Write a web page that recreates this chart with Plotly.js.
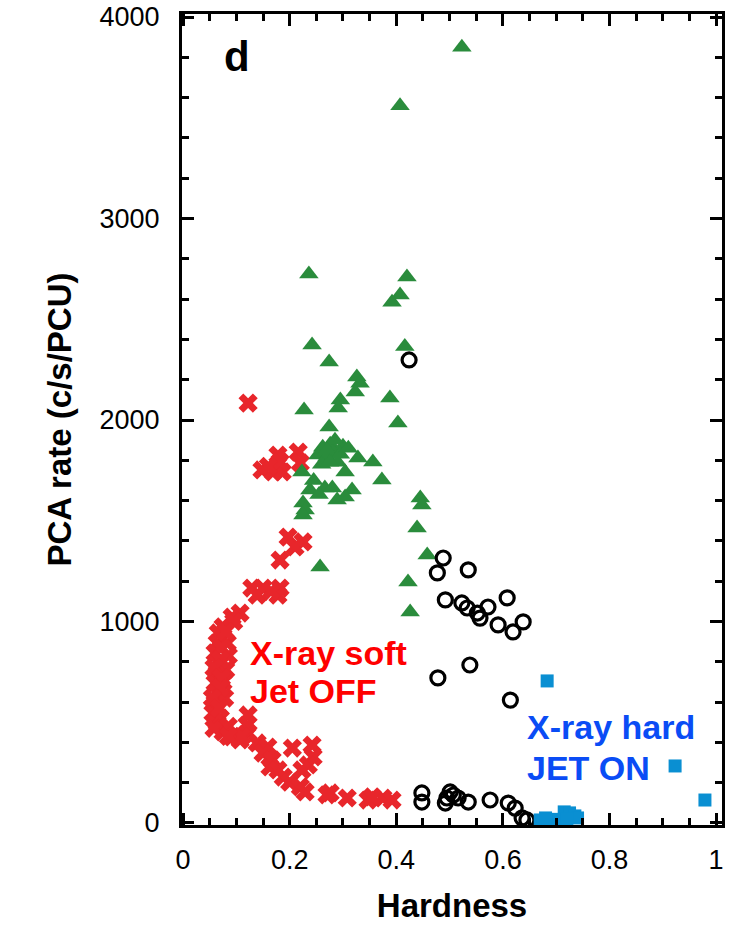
<!DOCTYPE html>
<html>
<head>
<meta charset="utf-8">
<script src="https://cdn.plot.ly/plotly-3.0.1.min.js"></script>
<style>html,body{margin:0;padding:0;background:#fff;}#chart{width:738px;height:925px;}</style>
</head>
<body>
<div id="chart"></div>
<script>
// Soft state (Jet OFF) - red crosses
var softHardness = [0.122,0.178,0.148,0.169,0.186,0.216,0.220,0.182,0.160,
  0.197,0.225,0.210,0.182,0.129,0.150,0.182,0.178,0.139,0.165,
  0.107,0.092,0.075,0.066,0.064,0.083,0.060,0.085,0.066,0.064,0.080,0.060,0.075,0.064,0.060,0.078,0.056,0.064,0.070,0.075,0.092,
  0.122,0.120,0.122,0.107,0.139,0.159,0.150,0.167,0.163,0.178,0.188,0.200,0.220,0.229,
  0.205,0.242,0.244,0.235,0.223,
  0.276,0.270,0.308,0.347,0.375,0.392,0.355,
  0.072,0.070,0.058,0.072,0.070,0.055,0.068,0.058,0.085,0.100,0.110,0.095,0.080,0.085];
var softRate = [2084,1826,1752,1742,1742,1841,1787,1792,1770,
  1419,1395,1370,1305,1166,1166,1166,1131,1131,1150,
  1042,1022,973,943,893,893,844,830,794,744,760,695,700,645,596,620,546,496,520,452,427,
  536,486,447,412,397,377,347,313,278,263,228,203,179,154,
  372,387,328,288,263,
  149,140,124,114,124,114,130,
  870,810,770,720,670,620,570,470,480,440,430,1000,950,430];

// Intermediate (bright) - green triangles
var interHardness = [0.523,0.407,0.236,0.420,0.407,0.392,0.416,0.242,0.274,0.326,0.332,0.323,0.388,0.295,0.291,0.227,0.403,0.274,
  0.276,0.262,0.300,0.281,0.253,0.270,0.328,0.356,0.304,0.373,0.223,0.238,0.266,0.280,0.317,0.289,0.304,0.225,0.229,0.225,
  0.445,0.448,0.439,0.458,0.257,0.422,0.426,0.290,0.260,0.245,0.255,
  0.285,0.270,0.295,0.310,0.275];
var interRate = [3850,3560,2725,2710,2620,2585,2365,2372,2288,2213,2183,2139,2109,2099,2060,2050,1985,1965,
  1880,1865,1870,1840,1826,1816,1811,1792,1742,1702,1742,1653,1663,1663,1653,1603,1618,1588,1553,1529,
  1613,1578,1464,1330,1270,1196,1047,1790,1780,1700,1630,
  1900,1850,1830,1860,1790];

// Intermediate (faint) - black open circles
var midHardness = [0.424,0.488,0.477,0.535,0.492,0.523,0.533,0.552,0.557,0.572,0.608,0.591,0.619,0.638,0.538,0.478,0.614,
  0.448,0.448,0.495,0.501,0.507,0.492,0.516,0.535,0.576,0.610,0.623,0.636,0.645];
var midRate = [2298,1315,1241,1256,1107,1092,1067,1042,1017,1072,1117,983,948,998,784,720,610,
  149,104,124,154,139,99,124,104,114,99,74,25,15];

// Hard state (Jet ON) - blue squares
var hardHardness = [0.683,0.923,0.979,0.670,0.685,0.700,0.715,0.725,0.735,0.740,0.720,0.690,0.680];
var hardRate = [705,283,114,15,12,18,55,50,35,25,20,5,25];

var traces = [
  {x: softHardness, y: softRate, type: 'scatter', mode: 'markers', name: 'soft',
   marker: {symbol: 'x', size: 17, color: '#e8262b', line: {width: 0}}},
  {x: interHardness, y: interRate, type: 'scatter', mode: 'markers', name: 'bright',
   marker: {symbol: 'triangle-up', size: 17, color: '#2a8c3c', line: {width: 0}}},
  {x: midHardness, y: midRate, type: 'scatter', mode: 'markers', name: 'faint',
   marker: {symbol: 'circle-open', size: 14, color: '#000000', line: {width: 3.2, color: '#000000'}}},
  {x: hardHardness, y: hardRate, type: 'scatter', mode: 'markers', name: 'hard',
   marker: {symbol: 'square', size: 13, color: '#0a8fd2', line: {width: 0}}}
];

var axisFont = {family: 'Liberation Sans, Arial, sans-serif', size: 27, color: '#000'};
var titleFont = {family: 'Liberation Sans, Arial, sans-serif', size: 33, color: '#000', weight: 'bold'};

var layout = {
  width: 738, height: 925,
  margin: {l: 182, r: 16, t: 14, b: 100},
  paper_bgcolor: '#fff', plot_bgcolor: '#fff',
  showlegend: false,
  xaxis: {
    range: [-0.002, 1.011], tickvals: [0,0.2,0.4,0.6,0.8,1], ticktext: ['0','0.2','0.4','0.6','0.8','1'],
    showgrid: false, zeroline: false,
    showline: true, linewidth: 3, linecolor: '#000', mirror: 'allticks',
    ticks: 'inside', ticklen: 12, tickwidth: 3, tickcolor: '#000',
    minor: {dtick: 0.05, tick0: 0, ticks: 'inside', ticklen: 7, tickwidth: 3, tickcolor: '#000', showgrid: false},
    tickfont: axisFont, ticklabelstandoff: 9,
    title: {text: 'Hardness', font: titleFont, standoff: 20}
  },
  yaxis: {
    range: [-10, 4015], tickvals: [0,1000,2000,3000,4000], ticktext: ['0','1000','2000','3000','4000'],
    showgrid: false, zeroline: false,
    showline: true, linewidth: 3, linecolor: '#000', mirror: 'allticks',
    ticks: 'inside', ticklen: 12, tickwidth: 3, tickcolor: '#000',
    minor: {dtick: 200, tick0: 0, ticks: 'inside', ticklen: 7, tickwidth: 3, tickcolor: '#000', showgrid: false},
    tickfont: axisFont, ticklabelstandoff: 14,
    title: {text: 'PCA rate (c/s/PCU)', font: titleFont, standoff: 18}
  },
  annotations: [
    {text: 'd', xref: 'paper', yref: 'paper', x: 0.102, y: 0.948, xanchor: 'center', yanchor: 'middle', showarrow: false,
     font: {family: 'Liberation Sans, Arial, sans-serif', size: 42, color: '#000', weight: 'bold'}},
    {text: 'X-ray soft', xref: 'x', yref: 'y', x: 0.122, y: 845, xanchor: 'left', yanchor: 'middle', showarrow: false,
     font: {family: 'Liberation Sans, Arial, sans-serif', size: 34, color: '#ff0000', weight: 'bold'}},
    {text: 'Jet OFF', xref: 'x', yref: 'y', x: 0.122, y: 655, xanchor: 'left', yanchor: 'middle', showarrow: false,
     font: {family: 'Liberation Sans, Arial, sans-serif', size: 34, color: '#ff0000', weight: 'bold'}},
    {text: 'X-ray hard', xref: 'x', yref: 'y', x: 0.641, y: 475, xanchor: 'left', yanchor: 'middle', showarrow: false,
     font: {family: 'Liberation Sans, Arial, sans-serif', size: 34, color: '#0a4cf5', weight: 'bold'}},
    {text: 'JET ON', xref: 'x', yref: 'y', x: 0.641, y: 275, xanchor: 'left', yanchor: 'middle', showarrow: false,
     font: {family: 'Liberation Sans, Arial, sans-serif', size: 34, color: '#0a4cf5', weight: 'bold'}}
  ]
};

Plotly.newPlot('chart', traces, layout, {displayModeBar: false, staticPlot: true});
</script>
</body>
</html>
